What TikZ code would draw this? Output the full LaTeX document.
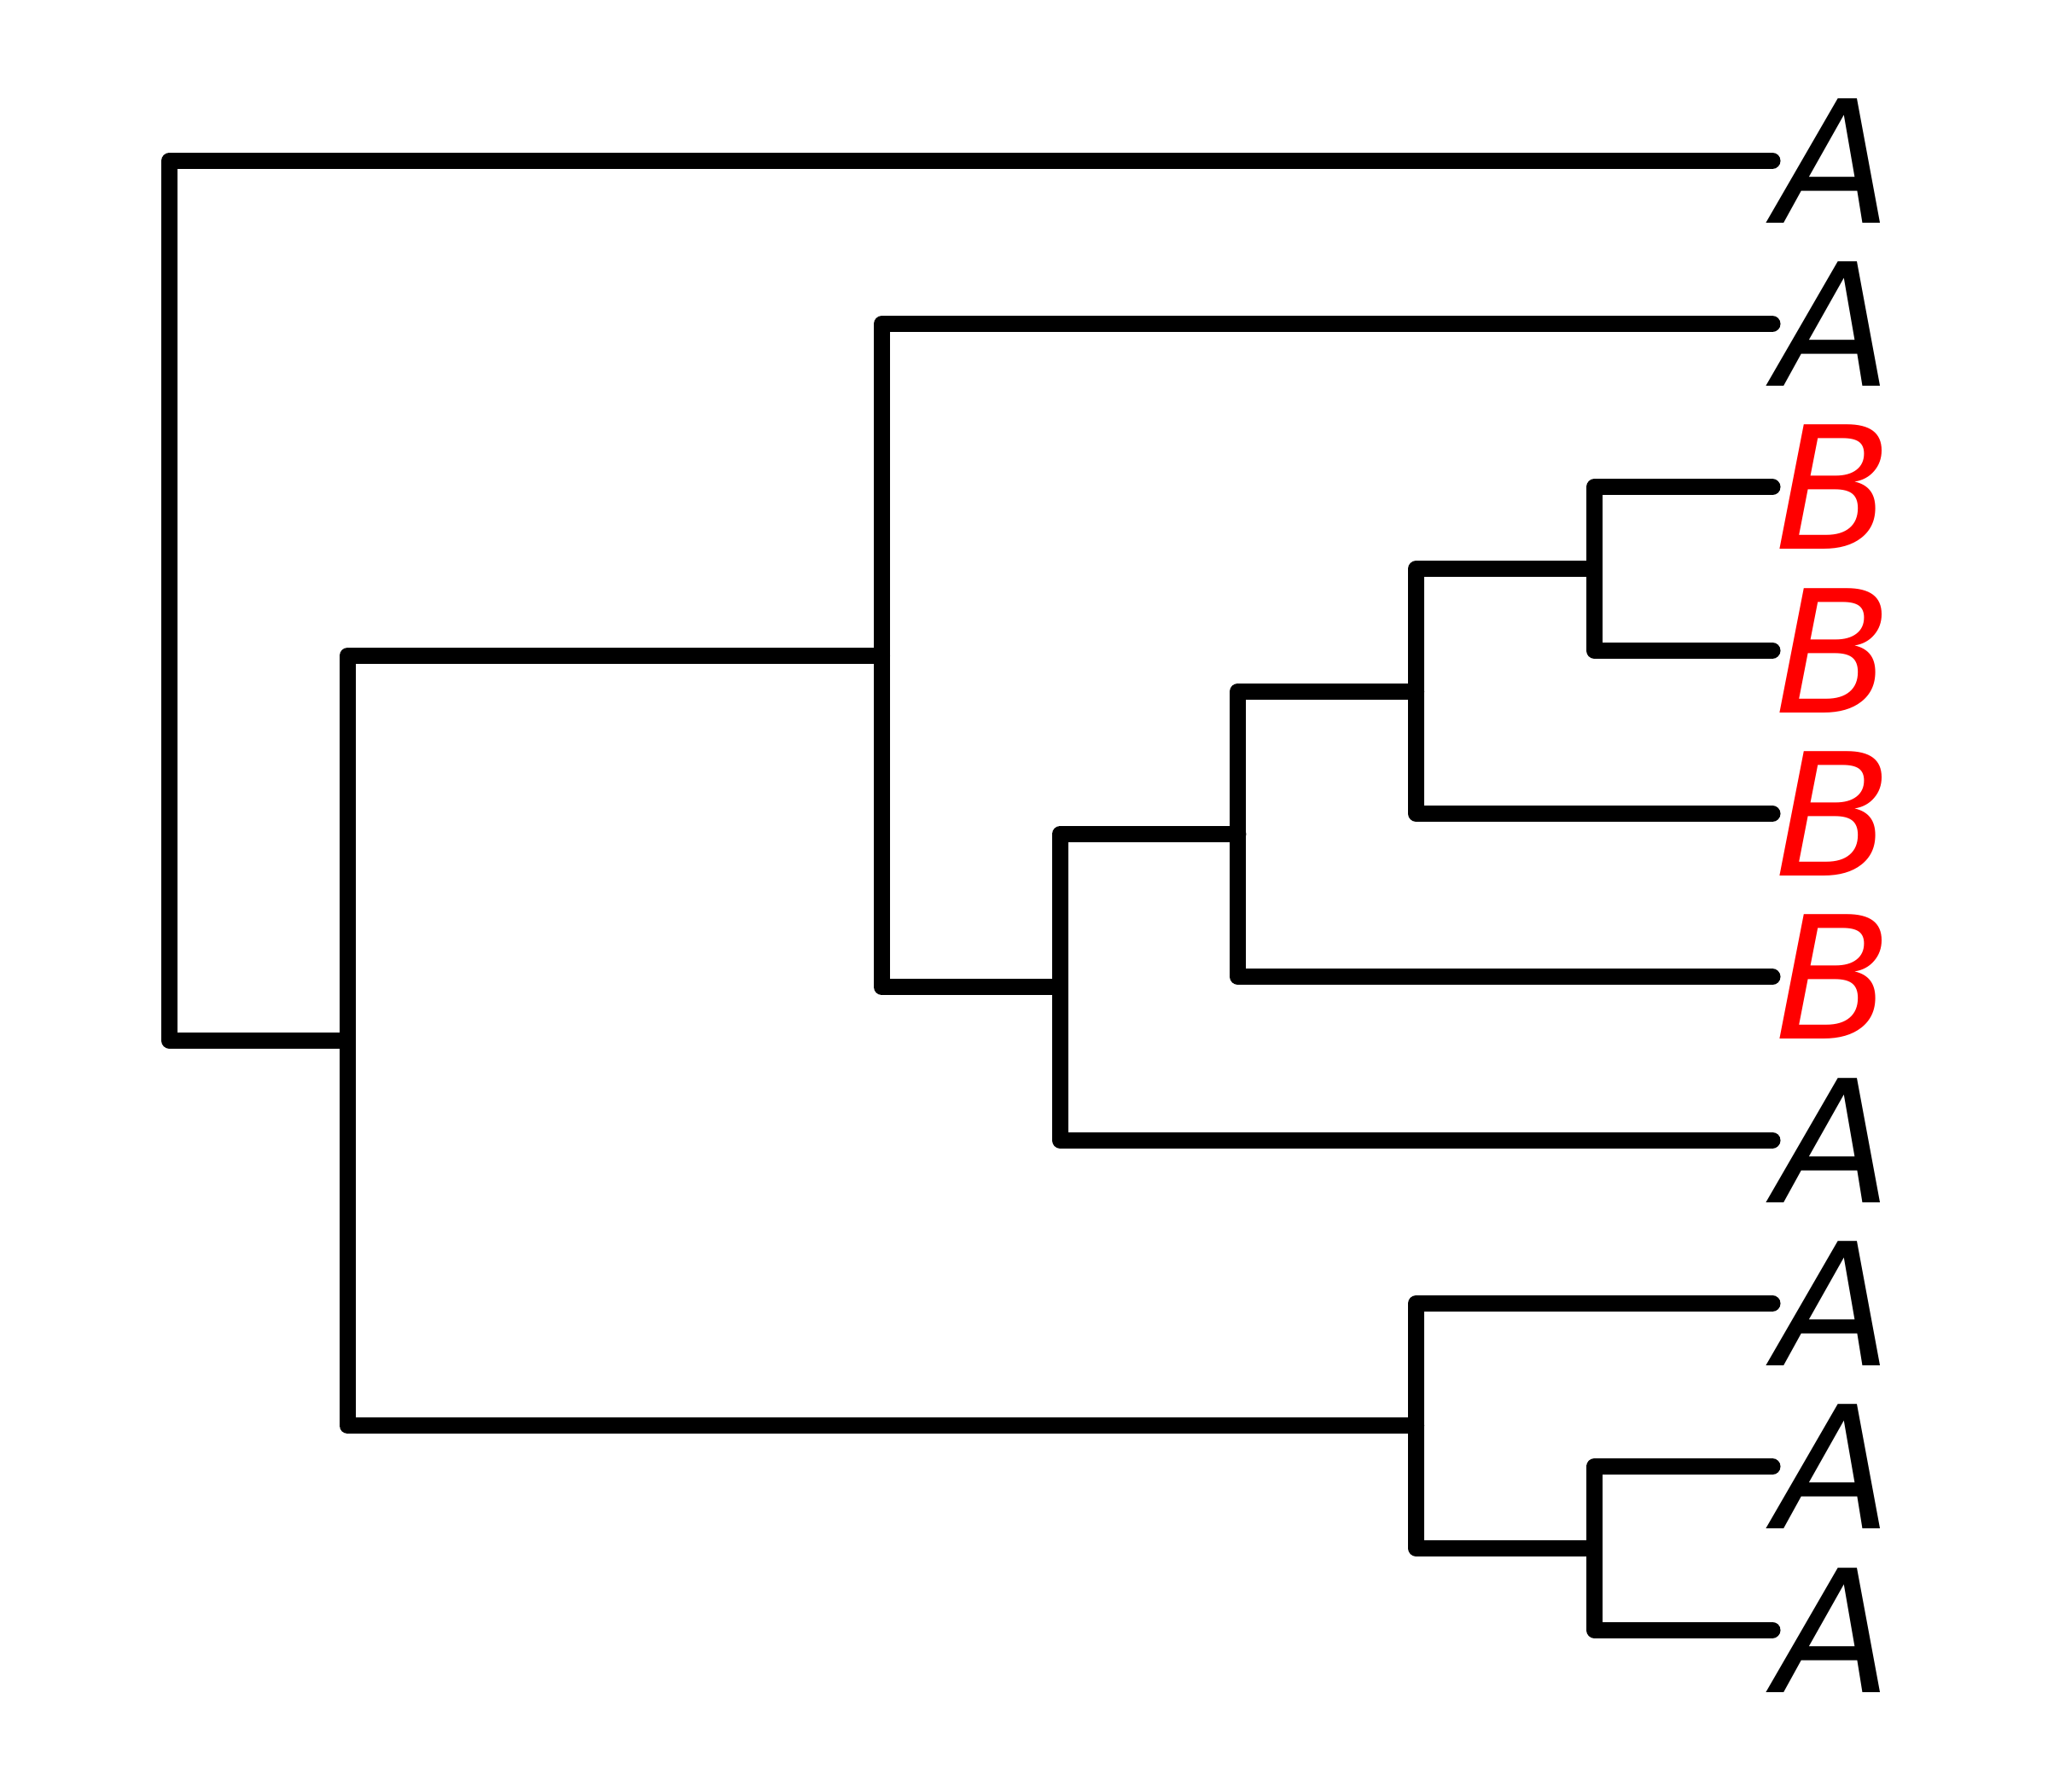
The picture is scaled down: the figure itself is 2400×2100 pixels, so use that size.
\documentclass[tikz,border=0pt]{standalone}
\usepackage{fontspec}
\newfontfamily\lab{DejaVu Sans}
\begin{document}
\begin{tikzpicture}[x=1pt,y=-1pt,
  link/.style={draw=black,line width=19pt,line cap=round,line join=round},
  leaflab/.style={anchor=base west,inner sep=0pt,xshift=3pt,yshift=-73pt,
    font=\lab\itshape\fontsize{200}{202}\selectfont},
  labA/.style={leaflab,text=black},
  labB/.style={leaflab,text=red}]
\useasboundingbox (0,0) rectangle (2400,2100);
% leaves
\coordinate (L0) at (2077,188.3);
\coordinate (L1) at (2077,379.6);
\coordinate (L2) at (2077,570.9);
\coordinate (L3) at (2077,762.2);
\coordinate (L4) at (2077,953.5);
\coordinate (L5) at (2077,1144.8);
\coordinate (L6) at (2077,1336.1);
\coordinate (L7) at (2077,1527.4);
\coordinate (L8) at (2077,1718.7);
\coordinate (L9) at (2077,1910.0);
% internal nodes
\coordinate (n1) at (1868.3,666.55);
\coordinate (n2) at (1659.6,810.0);
\coordinate (n3) at (1450.9,977.4);
\coordinate (n4) at (1242.2,1156.8);
\coordinate (n5) at (1033.5,768.2);
\coordinate (n6) at (1868.3,1814.35);
\coordinate (n7) at (1659.6,1670.9);
\coordinate (n8) at (407.4,1219.55);
\coordinate (n9) at (198.7,703.9);
% links
\draw[link] (L2) -| (n1) |- (L3);
\draw[link] (n1) -| (n2) |- (L4);
\draw[link] (n2) -| (n3) |- (L5);
\draw[link] (n3) -| (n4) |- (L6);
\draw[link] (L1) -| (n5) |- (n4);
\draw[link] (L8) -| (n6) |- (L9);
\draw[link] (L7) -| (n7) |- (n6);
\draw[link] (n5) -| (n8) |- (n7);
\draw[link] (L0) -| (n9) |- (n8);
% labels
\node[labA] (t0) at (L0) {A};
\node[labA] (t1) at (L1) {A};
\node[labB] (t2) at (L2) {B};
\node[labB] (t3) at (L3) {B};
\node[labB] (t4) at (L4) {B};
\node[labB] (t5) at (L5) {B};
\node[labA] (t6) at (L6) {A};
\node[labA] (t7) at (L7) {A};
\node[labA] (t8) at (L8) {A};
\node[labA] (t9) at (L9) {A};
\end{tikzpicture}
\end{document}
